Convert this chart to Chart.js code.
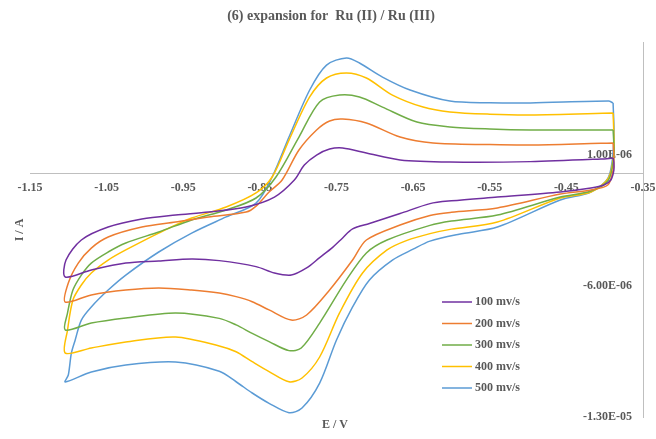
<!DOCTYPE html>
<html>
<head>
<meta charset="utf-8">
<script src="https://cdn.jsdelivr.net/npm/chart.js@4.4.1/dist/chart.umd.min.js"></script>
<style>
  html, body { margin: 0; padding: 0; background: #fff; }
  #wrap { width: 656px; height: 439px; }
</style>
</head>
<body>
<div id="wrap"><canvas id="cv" width="656" height="439"></canvas></div>
<script>
'use strict';

/* global Chart */

// potential (V) and current (uA) pairs, each loop closed back to its start
const cv100 = [
    [-0.389, 0.81], [-0.388, 0.60], [-0.388, 0.17], [-0.392, -0.36], [-0.401, -0.63], [-0.418, -0.79],
    [-0.458, -1.00], [-0.540, -1.27], [-0.600, -1.47], [-0.628, -1.62], [-0.667, -2.15], [-0.707, -2.68],
    [-0.729, -2.97], [-0.742, -3.45], [-0.755, -3.95], [-0.772, -4.50], [-0.789, -5.05], [-0.809, -5.43],
    [-0.831, -5.32], [-0.855, -4.98], [-0.903, -4.66], [-0.939, -4.57], [-0.982, -4.68], [-1.025, -4.79],
    [-1.070, -5.16], [-1.104, -5.53],
    [-1.103, -4.63], [-1.083, -3.56], [-1.048, -2.87], [-1.004, -2.44], [-0.960, -2.23], [-0.917, -2.07],
    [-0.868, -1.80], [-0.831, -1.27], [-0.805, -0.36], [-0.792, 0.44], [-0.776, 0.97], [-0.759, 1.29],
    [-0.742, 1.35], [-0.711, 1.08], [-0.667, 0.71], [-0.602, 0.60], [-0.497, 0.62], [-0.405, 0.76],
    [-0.389, 0.81]
];
const cv200 = [
    [-0.389, 1.61], [-0.388, 0.90], [-0.389, 0.17], [-0.396, -0.63], [-0.418, -0.89], [-0.458, -1.11],
    [-0.540, -1.85], [-0.600, -2.08], [-0.628, -2.25], [-0.667, -2.76], [-0.711, -3.56], [-0.729, -4.63],
    [-0.759, -6.23], [-0.789, -7.56], [-0.809, -7.83], [-0.838, -7.29], [-0.860, -6.85], [-0.881, -6.58],
    [-0.903, -6.39], [-0.939, -6.23], [-0.982, -6.12], [-1.025, -6.23], [-1.070, -6.49], [-1.104, -6.87],
    [-1.100, -5.85], [-1.087, -4.79], [-1.070, -3.99], [-1.048, -3.40], [-1.004, -2.87], [-0.960, -2.60],
    [-0.917, -2.33], [-0.868, -2.07], [-0.855, -1.75], [-0.838, -1.00], [-0.821, -0.36], [-0.799, 1.24],
    [-0.776, 2.31], [-0.759, 2.79], [-0.742, 2.89], [-0.711, 2.68], [-0.667, 1.93], [-0.624, 1.61],
    [-0.550, 1.53], [-0.497, 1.51], [-0.405, 1.60], [-0.389, 1.61]
];
const cv300 = [
    [-0.389, 2.31], [-0.388, 1.50], [-0.388, 0.87], [-0.395, -0.36], [-0.418, -0.95], [-0.458, -1.27],
    [-0.540, -2.23], [-0.600, -2.55], [-0.628, -2.78], [-0.684, -3.56], [-0.711, -4.25], [-0.737, -5.69],
    [-0.772, -7.99], [-0.796, -9.32], [-0.812, -9.46], [-0.838, -8.98], [-0.860, -8.54], [-0.881, -8.09],
    [-0.903, -7.74], [-0.960, -7.45], [-1.025, -7.72], [-1.070, -7.99], [-1.104, -8.36],
    [-1.101, -7.45], [-1.094, -6.23], [-1.083, -5.43], [-1.070, -4.79], [-1.048, -4.20], [-1.025, -3.72],
    [-0.982, -3.13], [-0.939, -2.49], [-0.894, -1.96], [-0.855, -1.32], [-0.829, -0.20], [-0.799, 1.93],
    [-0.772, 3.80], [-0.746, 4.17], [-0.720, 4.07], [-0.690, 3.53], [-0.645, 2.73], [-0.602, 2.47],
    [-0.550, 2.36], [-0.497, 2.31], [-0.389, 2.31]
];
const cv400 = [
    [-0.389, 3.21], [-0.388, 2.00], [-0.388, 1.08], [-0.395, -0.25], [-0.418, -1.00], [-0.458, -1.32],
    [-0.540, -2.60], [-0.600, -2.98], [-0.628, -3.22], [-0.658, -3.58], [-0.684, -4.09], [-0.716, -5.32],
    [-0.746, -7.45], [-0.772, -9.80], [-0.795, -10.92], [-0.812, -11.12], [-0.838, -10.58], [-0.860, -10.05],
    [-0.881, -9.52], [-0.903, -9.21], [-0.960, -8.73], [-1.025, -9.00], [-1.070, -9.32], [-1.104, -9.59],
    [-1.101, -8.36], [-1.094, -6.76], [-1.083, -5.96], [-1.070, -5.32], [-1.048, -4.63], [-1.025, -4.09],
    [-0.982, -3.19], [-0.939, -2.39], [-0.894, -1.80], [-0.855, -1.05], [-0.834, -0.20], [-0.812, 1.77],
    [-0.785, 4.07], [-0.763, 5.08], [-0.737, 5.35], [-0.711, 5.08], [-0.677, 4.17], [-0.637, 3.53],
    [-0.602, 3.27], [-0.550, 3.15], [-0.497, 3.11], [-0.389, 3.21]
];
const cv500 = [
    [-0.389, 3.75], [-0.388, 1.77], [-0.395, -0.20], [-0.418, -1.00], [-0.458, -1.43], [-0.540, -2.87],
    [-0.590, -3.25], [-0.628, -3.62], [-0.650, -4.05], [-0.677, -4.63], [-0.707, -5.69], [-0.729, -7.13],
    [-0.750, -8.89], [-0.772, -11.19], [-0.795, -12.52], [-0.812, -12.77], [-0.838, -12.27], [-0.860, -11.72],
    [-0.881, -11.12], [-0.903, -10.56], [-0.960, -10.07], [-1.025, -10.23], [-1.070, -10.60], [-1.104, -11.13],
    [-1.100, -10.76], [-1.096, -9.59], [-1.091, -8.89], [-1.083, -7.83], [-1.070, -7.13], [-1.048, -6.23],
    [-1.025, -5.43], [-0.982, -4.20], [-0.939, -3.19], [-0.894, -2.33], [-0.855, -1.59], [-0.834, -0.20],
    [-0.812, 1.93], [-0.785, 4.44], [-0.763, 5.77], [-0.737, 6.15], [-0.720, 5.88], [-0.690, 5.13],
    [-0.654, 4.44], [-0.602, 3.85], [-0.550, 3.76], [-0.497, 3.75], [-0.395, 3.85], [-0.389, 3.75]
];

const scanLabels = ['100 mv/s', '200 mv/s', '300 mv/s', '400 mv/s', '500 mv/s'];
const scanColors = ['#7030A0', '#ED7D31', '#70AD47', '#FFC000', '#5B9BD5'];
const xTicks = [-1.15, -1.05, -0.95, -0.85, -0.75, -0.65, -0.55, -0.45, -0.35];
const yTicks = [1, -6, -13]; // uA

const textColor = '#595959';
const axisColor = '#BFBFBF';
const serif = '"Liberation Serif", "Times New Roman", serif';

// 1e-6 -> "1.00E-06"
function fmtAmp(v) {
    return (v * 1e-6).toExponential(2).toUpperCase().replace(/E([+-])(\d)$/, 'E$10$2');
}

const curves = [cv100, cv200, cv300, cv400, cv500];

const labelsPlugin = {
    id: 'labels',
    afterDraw(chart) {
        const ctx = chart.ctx;
        ctx.save();
        ctx.fillStyle = textColor;
        ctx.textBaseline = 'middle';
        ctx.textAlign = 'center';
        ctx.font = `bold 14px ${serif}`;
        ctx.fillText('(6) expansion for  Ru (II) / Ru (III)', 331, 16);
        ctx.font = `bold 12px ${serif}`;
        ctx.fillText('E / V', 335, 425);
        ctx.save();
        ctx.translate(20, 230);
        ctx.rotate(-Math.PI / 2);
        ctx.fillText('I / A', 0, 0);
        ctx.restore();

        // legend
        ctx.textAlign = 'left';
        chart.data.datasets.forEach((ds, i) => {
            const y = 302 + i * 21.5;
            ctx.strokeStyle = ds.borderColor;
            ctx.lineWidth = 1.5;
            ctx.beginPath();
            ctx.moveTo(442, y);
            ctx.lineTo(472, y);
            ctx.stroke();
            ctx.fillStyle = textColor;
            ctx.fillText(ds.label, 475, y);
        });
        ctx.restore();
    }
};

new Chart(document.getElementById('cv'), {
    type: 'scatter',
    data: {
        datasets: curves.map((pts, i) => ({
            label: scanLabels[i],
            data: pts,
            showLine: true,
            borderColor: scanColors[i],
            backgroundColor: scanColors[i],
            borderWidth: 1.5,
            pointRadius: 0,
            tension: 0.3,
            fill: false
        }))
    },
    options: {
        responsive: false,
        animation: false,
        devicePixelRatio: 1,
        layout: { padding: { left: 30, right: 13, top: 42, bottom: 22 } },
        scales: {
            x: {
                type: 'linear',
                position: { y: 0 },
                min: -1.15,
                max: -0.35,
                afterBuildTicks: (s) => { s.ticks = xTicks.map((v) => ({ value: v })); },
                // end labels may hang past the plot edges
                afterFit: (s) => { s.paddingLeft = 0; s.paddingRight = 0; },
                grid: { display: false, drawTicks: false },
                border: { display: true, color: axisColor, width: 1 },
                ticks: {
                    padding: 7,
                    color: textColor,
                    font: { family: serif, size: 12, weight: 'bold' },
                    maxRotation: 0,
                    autoSkip: false,
                    callback: (v) => v.toFixed(2)
                }
            },
            y: {
                type: 'linear',
                position: 'right',
                min: -13,
                max: 7,
                afterFit: (s) => { s.width = 0; },
                afterBuildTicks: (s) => { s.ticks = yTicks.map((v) => ({ value: v })); },
                grid: { display: false, drawTicks: false },
                border: { display: true, color: axisColor, width: 1 },
                ticks: {
                    mirror: true,
                    padding: -11,
                    color: textColor,
                    font: { family: serif, size: 12, weight: 'bold' },
                    callback: fmtAmp
                }
            }
        },
        plugins: {
            legend: { display: false },
            title: { display: false },
            tooltip: { enabled: false }
        }
    },
    plugins: [labelsPlugin]
});
</script>
</body>
</html>
